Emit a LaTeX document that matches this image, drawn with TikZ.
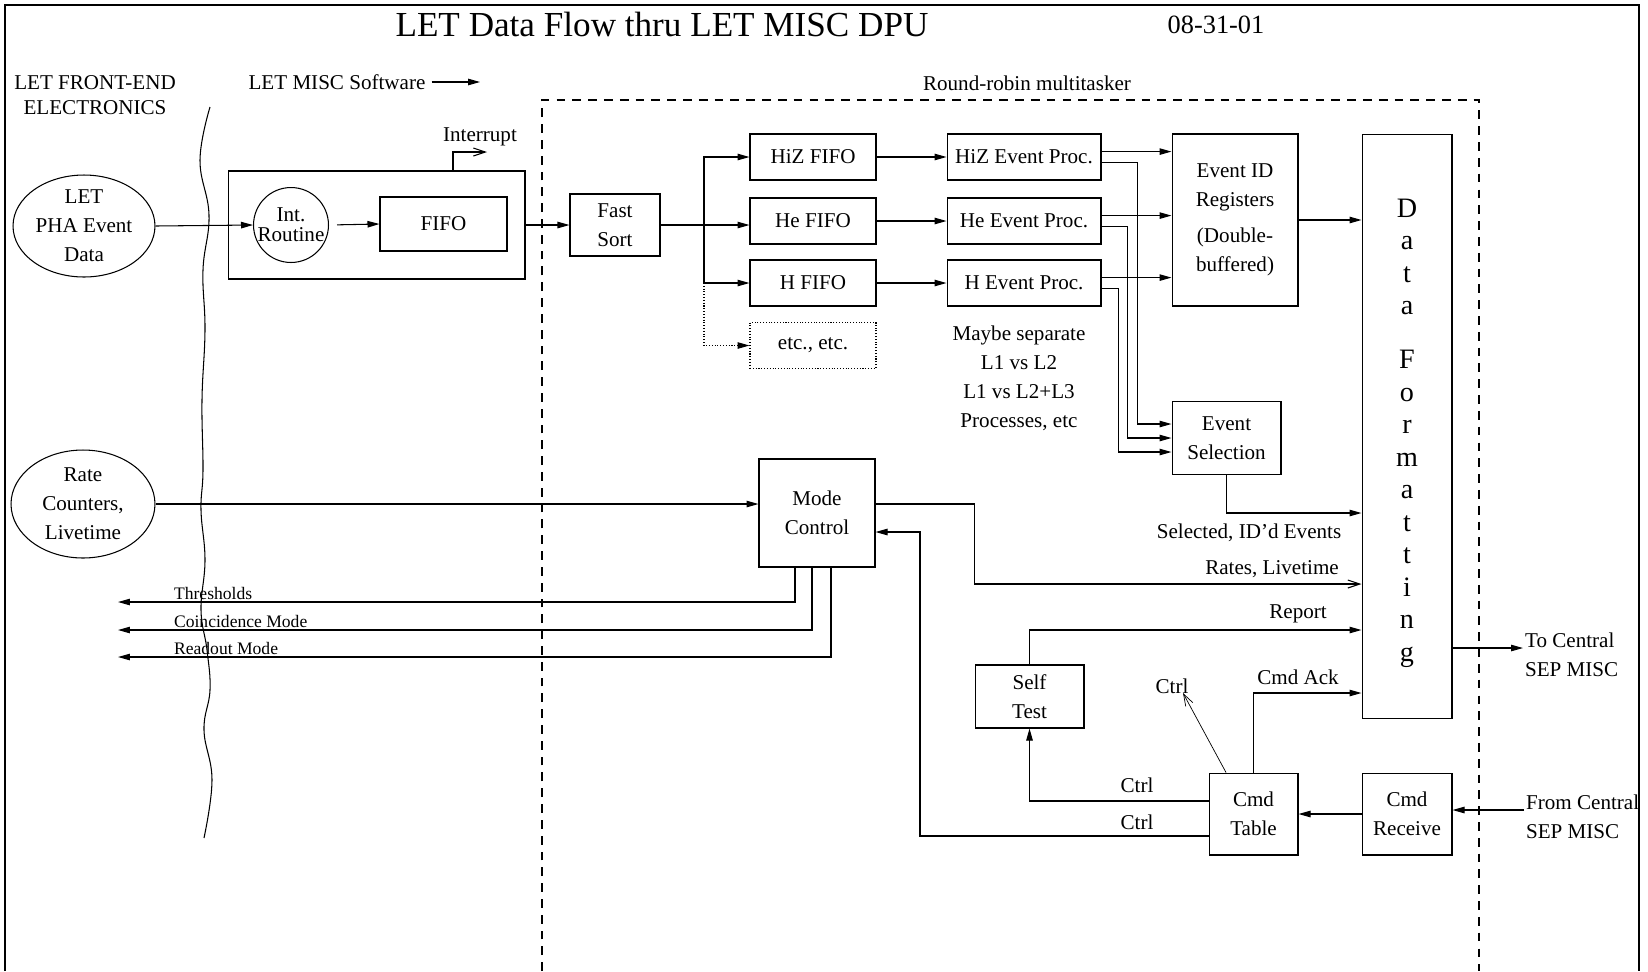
\documentclass[tikz,border=0pt]{standalone}
\usepackage{fontspec}
\setmainfont{Liberation Serif}
\usetikzlibrary{arrows.meta, shapes.geometric}

\begin{document}
\begin{tikzpicture}[
			x=0.02cm, y=-0.02cm,
			every node/.style={font=\fontsize{12}{16.5}\selectfont},
			block/.style={draw, line width=0.6pt, inner sep=0pt, align=center},
			oval/.style={draw, ellipse, line width=0.6pt, inner sep=0pt, align=center},
			wire/.style={line width=0.6pt},
			arrowstyle/.style={-{Triangle[length=2.4mm, width=1.3mm]}, line width=0.6pt},
			openarrow/.style={-{Straight Barb[length=2.4mm, width=1.6mm]}, line width=0.6pt},
			smalllabel/.style={font=\fontsize{10}{12}\selectfont, anchor=south west, inner sep=1pt}
		]
		\fill[white] (0,0) rectangle (1648,971);
		\useasboundingbox (0,0) rectangle (1648,971);
		\draw[line width=1.2pt] (5,971) -- (5,5) -- (1639,5) -- (1639,971);
		\draw[wire, dash pattern=on 5pt off 4pt] (542,971) -- (542,100) -- (1479,100) -- (1479,971);
		\draw[wire] plot[smooth, tension=0.7] coordinates {(210,107) (200,160) (209,215) (203,270) (205,330) (202,400) (203,470) (201,510) (205,560) (201,610) (207,650) (210,690) (204,730) (212,780) (204,838)};

		\node[font=\fontsize{20}{24}\selectfont] (title) at (662,24) {LET Data Flow thru LET MISC DPU};
		\node[font=\fontsize{15}{18}\selectfont] (date) at (1216,25) {08-31-01};
		\node[align=center] (frontend) at (95,95) {LET FRONT-END\\[-2pt]ELECTRONICS};
		\node (software) at (337,82) {LET MISC Software};
		\coordinate (swtip) at (480,80);
		\node (roundrobin) at (1027,83) {Round-robin multitasker};

		\node[oval, minimum width=2.84cm, minimum height=2.04cm] (pha) at (84,226) {LET\\PHA Event\\Data};
		\node[block, minimum width=5.94cm, minimum height=2.16cm] (intbox) at (376.5,225) {};
		\node[block, circle, minimum size=1.48cm] (introutine) at (291,225) {Int.\\[-5pt]Routine};
		\node[block, minimum width=2.54cm, minimum height=1.08cm] (fifo) at (443.5,224) {FIFO};
		\node (interrupt) at (480,137) {Interrupt};
		\coordinate (irqtip) at (487,152);
		\node[block, minimum width=1.8cm, minimum height=1.24cm] (fastsort) at (615,225) {Fast\\Sort};
		\coordinate (fork) at (704,225);

		\node[block, minimum width=2.52cm, minimum height=0.92cm] (hizfifo) at (813,157) {HiZ FIFO};
		\node[block, minimum width=2.52cm, minimum height=0.92cm] (hefifo) at (813,221) {He FIFO};
		\node[block, minimum width=2.52cm, minimum height=0.92cm] (hfifo) at (813,283) {H FIFO};
		\node[block, densely dotted, minimum width=2.52cm, minimum height=0.92cm] (etcbox) at (813,345.5) {etc., etc.};
		\node[block, minimum width=3.08cm, minimum height=0.92cm] (hizproc) at (1024,157) {HiZ Event Proc.};
		\node[block, minimum width=3.08cm, minimum height=0.92cm] (heproc) at (1024,221) {He Event Proc.};
		\node[block, minimum width=3.08cm, minimum height=0.92cm] (hproc) at (1024,283) {H Event Proc.};
		\node[align=center] (maybe) at (1019,378) {Maybe separate\\L1 vs L2\\L1 vs L2+L3\\Processes, etc};

		\node[block, minimum width=2.52cm, minimum height=3.44cm] (eventid) at (1235,220) {Event ID\\Registers\\[4pt](Double-\\buffered)};
		\node[block, minimum width=2.18cm, minimum height=1.46cm] (eventsel) at (1226.5,438) {Event\\Selection};
		\node[block, minimum width=1.8cm, minimum height=11.7cm, font=\fontsize{16}{18.5}\selectfont] (dataform) at (1407,426.5) {\rule{0pt}{18pt}D\\a\\t\\a\\[12pt]F\\o\\r\\m\\a\\t\\t\\i\\n\\g};

		\node[oval, minimum width=2.88cm, minimum height=2.16cm] (rate) at (83,504) {Rate\\Counters,\\Livetime};
		\node[block, minimum width=2.32cm, minimum height=2.16cm] (modectl) at (817,513) {Mode\\Control};
		\node[smalllabel] (thresholds) at (172,602) {Thresholds};
		\node[smalllabel] (coincidence) at (172,630) {Coincidence Mode};
		\node[smalllabel] (readout) at (172,657) {Readout Mode};
		\coordinate (thr) at (118,602);
		\coordinate (coin) at (118,630);
		\coordinate (rdo) at (118,657);

		\node (selected) at (1249,533) {Selected, ID'd Events};
		\node (rates) at (1272,569) {Rates, Livetime};
		\node (report) at (1298,614) {Report};
		\node (cmdack) at (1298,677) {Cmd Ack};
		\node (ctrltop) at (1172,686) {Ctrl};
		\coordinate (ctrltip) at (1183,693);
		\node[block, minimum width=2.18cm, minimum height=1.26cm] (selftest) at (1029.5,696.5) {Self\\Test};
		\node[block, minimum width=1.78cm, minimum height=1.64cm] (cmdtable) at (1253.5,814) {Cmd\\Table};
		\node[block, minimum width=1.8cm, minimum height=1.64cm] (cmdrecv) at (1407,814) {Cmd\\Receive};
		\node (ctrlself) at (1137,785) {Ctrl};
		\node (ctrlmode) at (1137,822) {Ctrl};
		\node[anchor=west, align=left, inner xsep=1pt] (tocentral) at (1523,655) {To Central\\SEP MISC};
		\node[anchor=west, align=left, inner xsep=1pt] (fromcentral) at (1524,817) {From Central\\SEP MISC};
		\coordinate (totip) at (1523,648);
		\coordinate (fromtail) at (1524,810);

		\draw[arrowstyle] (software.east) -- (software.east -| swtip);
		\draw[arrowstyle] (pha.east) -- (introutine.west);
		\draw[arrowstyle, shorten <=0.16cm] (introutine.east) -- (fifo.west);
		\draw[openarrow] ([xshift=1.53cm]intbox.north) |- (irqtip);
		\draw[arrowstyle] (intbox.east) -- (intbox.east -| fastsort.west);
		\draw[wire] (fastsort.east) -- (fork);
		\draw[arrowstyle] (fork) |- (hizfifo.west);
		\draw[arrowstyle] (fork) -- (fork -| hefifo.west);
		\draw[arrowstyle] (fork) |- (hfifo.west);
		\draw[arrowstyle, densely dotted] (fork |- hfifo.west) |- (etcbox.west);
		\draw[arrowstyle] (hizfifo) -- (hizproc);
		\draw[arrowstyle] (hefifo) -- (heproc);
		\draw[arrowstyle] (hfifo) -- (hproc);
		\draw[arrowstyle] (hizproc.4) -- (hizproc.4 -| eventid.west);
		\draw[arrowstyle] (heproc.4) -- (heproc.4 -| eventid.west);
		\draw[arrowstyle] (hproc.4) -- (hproc.4 -| eventid.west);
		\draw[arrowstyle] (hizproc.-4) -- ++(36,0) |- ([yshift=0.28cm]eventsel.west);
		\draw[arrowstyle] (heproc.-4) -- ++(26,0) |- (eventsel.west);
		\draw[arrowstyle] (hproc.-4) -- ++(17,0) |- ([yshift=-0.28cm]eventsel.west);
		\draw[arrowstyle] (eventid.east) -- (eventid.east -| dataform.west);
		\draw[arrowstyle] (eventsel.south) |- (dataform.west |- 0,513);
		\draw[arrowstyle] (rate.east) -- (rate.east -| modectl.west);
		\draw[openarrow] (modectl.east |- rate.east) -| (selftest.west |- 0,584) -- (dataform.west |- 0,584);
		\draw[arrowstyle] (selftest.north) |- (dataform.west |- 0,630);
		\draw[arrowstyle] (cmdtable.north) |- (dataform.west |- 0,693);
		\draw[openarrow, line width=0.4pt] ([xshift=-0.55cm]cmdtable.north) -- (ctrltip);
		\draw[arrowstyle] (cmdrecv) -- (cmdtable);
		\draw[arrowstyle] (fromtail) -- (fromtail -| cmdrecv.east);
		\draw[arrowstyle] (dataform.east |- totip) -- (totip);
		\draw[arrowstyle] (cmdtable.west |- 0,801) -| (selftest.south);
		\draw[arrowstyle] (cmdtable.west |- 0,836) -| (920,532) -- (modectl.east |- 0,532);
		\draw[arrowstyle] ([xshift=-0.44cm]modectl.south) |- (thr);
		\draw[arrowstyle] ([xshift=-0.1cm]modectl.south) |- (coin);
		\draw[arrowstyle] ([xshift=0.28cm]modectl.south) |- (rdo);
	\end{tikzpicture}
\end{document}
